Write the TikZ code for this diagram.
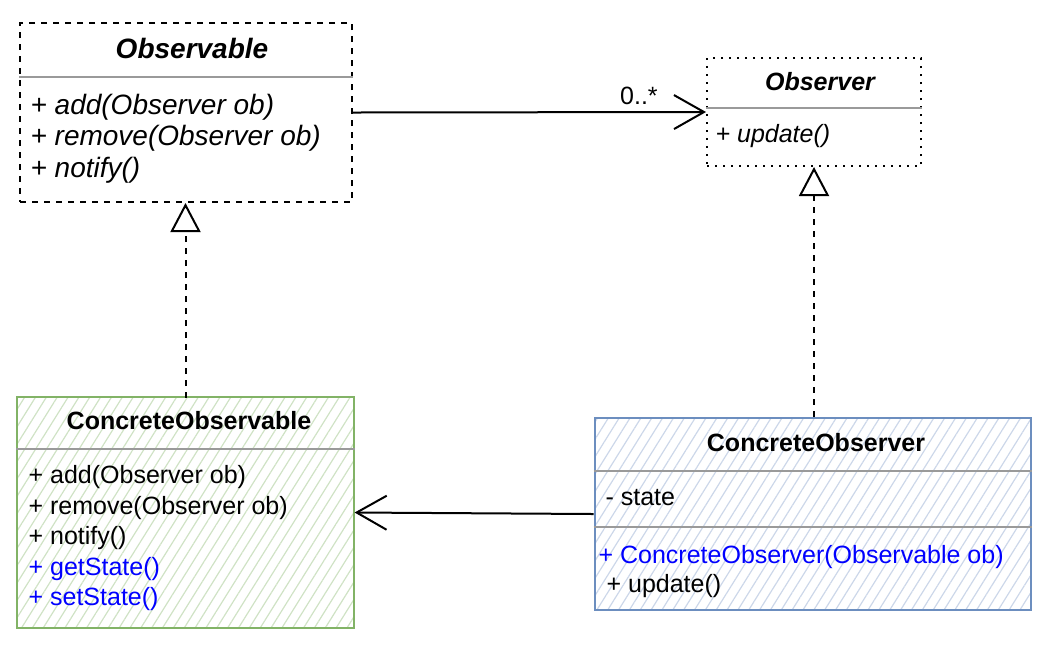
\documentclass[tikz,border=0pt]{standalone}
\usepackage{fontspec}
\setmainfont{Liberation Sans}
\usetikzlibrary{arrows.meta,patterns.meta,positioning}
\definecolor{obsgreen}{HTML}{82B366}
\definecolor{obsblue}{HTML}{6C8EBF}
\definecolor{sepgray}{HTML}{9A9A9A}
\newcommand\umlsize[2]{\fontsize{#1}{#2}\selectfont}

\begin{document}
\begin{tikzpicture}[x=0.5pt,y=-0.5pt,font=\umlsize{12.5}{15.25},
                    line width=1pt,semithick]
  \tikzstyle{classbox}=[draw,line width=1pt,inner sep=0pt]
  \tikzstyle{sketch}=[line width=1.4pt,pattern={Lines[angle=58,distance=4.6pt,line width=0.6pt]}]
  \tikzstyle{member}=[anchor=west,inner sep=0pt,align=left]
  \tikzstyle{sep}=[draw=sepgray,line width=0.8pt]
  \tikzstyle{realize}=[line width=1pt,dash pattern=on 3pt off 3pt,
                       -{Triangle[open,length=14.5pt,width=15pt]}]
  \tikzstyle{assoc}=[line width=1pt,-{Straight Barb[length=15pt,width=17pt]}]
  \useasboundingbox (0,0) rectangle (1049,645);

  % abstract classes
  \node[classbox,dash pattern=on 3pt off 3pt,minimum width=166pt,minimum height=89.5pt] (Obs) at (186,112.5) {};
  \node[classbox,dash pattern=on 1pt off 3pt,minimum width=107pt,minimum height=54pt] (Obsr) at (814,112) {};

  % concrete classes
  \node[classbox,sketch,draw=obsgreen,pattern color=obsgreen!38,
        minimum width=168.5pt,minimum height=115.5pt] (CObs) at (185.5,512.5) {};
  \node[classbox,sketch,draw=obsblue,pattern color=obsblue!35,
        minimum width=218pt,minimum height=96pt] (CObsr) at (813,514) {};

  % compartments
  \draw[sep] (Obs.west |- 0,77) -- (Obs.east |- 0,77);
  \draw[sep] (Obsr.west |- 0,108) -- (Obsr.east |- 0,108);
  \draw[sep] (CObs.west |- 0,449) -- (CObs.east |- 0,449);
  \draw[sep] (CObsr.west |- 0,471) -- (CObsr.east |- 0,471);
  \draw[sep] (CObsr.west |- 0,527) -- (CObsr.east |- 0,527);

  % texts
  \node[font=\umlsize{14}{15.75}\bfseries\itshape] (ObsName) at (192,48) {Observable};
  \node[member,font=\umlsize{14}{15.75}\itshape] (ObsOps) at (30,138.5)
       {+ add(Observer ob)\\ + remove(Observer ob)\\ + notify()};
  \node[font=\umlsize{12.5}{15}\bfseries\itshape] (ObsrName) at (820,82) {Observer};
  \node[member,font=\umlsize{12.5}{15}\itshape] (ObsrOps) at (715,136) {+ update()};

  \node[font=\umlsize{12.5}{15}\bfseries] (CObsName) at (189,421) {ConcreteObservable};
  \node[member,font=\umlsize{12.5}{15.25}] (CObsOps) at (28,538.5)
       {+ add(Observer ob)\\ + remove(Observer ob)\\ + notify()\\
        \textcolor{blue}{+ getState()}\\ \textcolor{blue}{+ setState()}};
  \node[font=\umlsize{12.5}{15}\bfseries] (CObsrName) at (816,443) {ConcreteObserver};
  \node[member] (CObsrAttr) at (605,498) {- state};
  \node[member,font=\umlsize{12.5}{14.5}] (CObsrOps) at (598,572)
       {\textcolor{blue}{+ ConcreteObserver(Observable ob)}\\ \hspace*{4pt}+ update()};

  % relations
  \path (Obs.east) edge [assoc] node [pos=0.81,above=3pt,inner sep=0pt] (mult) {0..*} (Obsr.west)
        (CObsr.west) edge [assoc] (CObs.east)
        (CObs.north |- Obs.south) ++(0,195) edge [realize] (CObs.north |- Obs.south)
        (Obsr.south |- CObsr.north) edge [realize] (Obsr.south);
\end{tikzpicture}
\end{document}
